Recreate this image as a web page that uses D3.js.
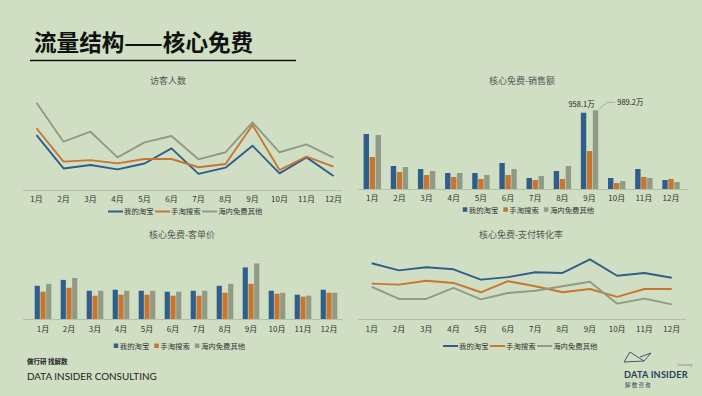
<!DOCTYPE html>
<html>
<head>
<meta charset="utf-8">
<script src="https://cdn.jsdelivr.net/npm/d3@7"></script>
<style>
  html, body { margin: 0; padding: 0; background: #d0dfc3; }
  svg { display: block; font-family: "Noto Sans CJK SC", "Noto Sans", sans-serif; }
</style>
</head>
<body>
<svg id="page" width="702" height="396"></svg>
<script>
// months on every x axis
var months = ["1月", "2月", "3月", "4月", "5月", "6月", "7月", "8月", "9月", "10月", "11月", "12月"];
var seriesNames = ["我的淘宝", "手淘搜索", "海内免费其他"];
var colors = ["#2f5d8c", "#c8752f", "#8f9a87"];

// 访客人数 (万)
var visitMine = [560, 220, 255, 210, 270, 425, 165, 228, 452, 170, 333, 143];
var visitSearch = [630, 290, 305, 272, 316, 316, 232, 265, 663, 204, 340, 238];
var visitOther = [890, 493, 595, 333, 486, 551, 313, 385, 690, 385, 466, 330];

// 销售额 (万)
var salesMine = [691, 289, 251, 201, 201, 327, 138, 226, 958.1, 138, 251, 113];
var salesSearch = [402, 214, 176, 151, 126, 176, 113, 126, 477, 75, 151, 126];
var salesOther = [678, 276, 226, 201, 176, 251, 163, 289, 989.2, 100, 138, 88];

// 客单价 (元)
var priceMine = [101, 119, 86, 89, 86, 83, 86, 101, 157, 86, 74, 89];
var priceSearch = [83, 95, 71, 74, 74, 71, 71, 80, 107, 77, 68, 80];
var priceOther = [107, 125, 86, 86, 86, 83, 86, 107, 169, 80, 71, 80];

// 支付转化率 (%)
var convMine = [3.23, 2.82, 3.00, 2.88, 2.28, 2.43, 2.71, 2.67, 3.46, 2.51, 2.67, 2.39];
var convSearch = [2.05, 1.99, 2.22, 2.09, 1.55, 2.19, 1.90, 1.55, 1.74, 1.28, 1.74, 1.74];
var convOther = [1.86, 1.16, 1.16, 1.80, 1.14, 1.51, 1.64, 1.90, 2.16, 0.89, 1.18, 0.85];

var svg = d3.select('#page');

// page header
svg.append('text')
  .attr('x', 34).attr('y', 51)
  .attr('font-size', 22.6).attr('font-weight', 'bold')
  .attr('fill', '#111')
  .text('流量结构——核心免费');
svg.append('line')
  .attr('x1', 30).attr('x2', 296).attr('y1', 60.5).attr('y2', 60.5)
  .attr('stroke', '#111').attr('stroke-width', 1.3);

function chartTitle(x, y, t) {
  svg.append('text')
    .attr('x', x).attr('y', y)
    .attr('text-anchor', 'middle')
    .attr('font-size', 9).attr('fill', '#555')
    .text(t);
}

function axisLine(x0, x1, y) {
  svg.append('line')
    .attr('x1', x0).attr('x2', x1).attr('y1', y + 0.5).attr('y2', y + 0.5)
    .attr('stroke', '#b3bfa8').attr('stroke-width', 1);
}

function monthLabels(x, y, offset) {
  svg.append('g')
    .selectAll('text')
    .data(months)
    .enter()
    .append('text')
    .attr('x', function (d) { return x(d) + offset; })
    .attr('y', y)
    .attr('text-anchor', 'middle')
    .attr('font-size', 8).attr('fill', '#333')
    .text(function (d) { return d; });
}

// legend centered on cx; kind = 'line' or 'box'
function legend(cx, y, kind) {
  var g = svg.append('g');
  var pos = 0;
  seriesNames.forEach(function (name, i) {
    var item = g.append('g').attr('transform', 'translate(' + pos + ',0)');
    var w;
    if (kind === 'line') {
      item.append('line')
        .attr('x1', 0).attr('x2', 15).attr('y1', y).attr('y2', y)
        .attr('stroke', colors[i]).attr('stroke-width', 2);
      w = 16;
    } else {
      item.append('rect')
        .attr('x', 0).attr('y', y - 2.5).attr('width', 4.5).attr('height', 4.5)
        .attr('fill', colors[i]);
      w = 6;
    }
    var t = item.append('text')
      .attr('x', w).attr('y', y + 2.7)
      .attr('font-size', 7.4).attr('fill', '#333')
      .text(name);
    pos += w + t.node().getComputedTextLength() + (kind === 'line' ? 1.5 : 5);
  });
  var total = pos;
  g.attr('transform', 'translate(' + (cx - total / 2) + ',0)');
}

function lineChart(opts) {
  var x = d3.scalePoint().domain(months).range(opts.xr);
  var y = d3.scaleLinear().domain(opts.yd).range(opts.yr);
  axisLine(opts.ax[0], opts.ax[1], opts.yr[0]);
  var line = d3.line()
    .x(function (d, i) { return x(months[i]); })
    .y(function (d) { return y(d); });
  opts.series.forEach(function (s, i) {
    svg.append('path')
      .datum(s)
      .attr('d', line)
      .attr('fill', 'none')
      .attr('stroke', colors[i])
      .attr('stroke-width', 1.9)
      .attr('stroke-linejoin', 'round');
  });
  monthLabels(x, opts.labelY, 0);
}

function barChart(opts) {
  var x = d3.scaleBand().domain(months).range(opts.xr).paddingInner(0.36).paddingOuter(0.18);
  var xs = d3.scaleBand().domain([0, 1, 2]).range([0, x.bandwidth()]).paddingInner(0.1);
  var y = d3.scaleLinear().domain(opts.yd).range(opts.yr);
  var g = svg.append('g');
  opts.series.forEach(function (s, i) {
    g.selectAll('rect.s' + i)
      .data(s)
      .enter()
      .append('rect')
      .attr('x', function (d, j) { return x(months[j]) + xs(i); })
      .attr('y', function (d) { return y(d); })
      .attr('width', xs.bandwidth())
      .attr('height', function (d) { return y(0) - y(d); })
      .attr('fill', colors[i]);
  });
  axisLine(opts.ax[0], opts.ax[1], opts.yr[0]);
  monthLabels(function (d) { return x(d) + x.bandwidth() / 2; }, opts.labelY, 0);
  return { x: x, xs: xs, y: y };
}

// 访客人数
chartTitle(168, 84, '访客人数');
lineChart({
  xr: [36.5, 333.5], yd: [0, 1000], yr: [190, 92], ax: [23, 342],
  series: [visitMine, visitSearch, visitOther], labelY: 201.5
});
legend(186, 211.5, 'line');

// 核心免费-销售额
chartTitle(522, 84, '核心免费-销售额');
var sales = barChart({
  xr: [358.7, 684.6], yd: [0, 1200], yr: [189, 93.5], ax: [358, 688],
  series: [salesMine, salesSearch, salesOther], labelY: 200.5
});
legend(531, 209.8, 'box');

// value labels for September
var sx = sales.x('9月');
svg.append('text')
  .attr('x', sx + sales.xs(0) + sales.xs.bandwidth() / 2 - 2)
  .attr('y', sales.y(salesMine[8]) - 6)
  .attr('text-anchor', 'middle')
  .attr('font-size', 7.5).attr('fill', '#222')
  .text(d3.format('.1f')(salesMine[8]) + '万');
var gx = sx + sales.xs(2) + sales.xs.bandwidth();
var gy = sales.y(salesOther[8]);
svg.append('polyline')
  .attr('points', [[gx + 0.5, gy - 1], [gx + 9, gy - 8], [gx + 17, gy - 8]].join(' '))
  .attr('fill', 'none').attr('stroke', '#9aa592').attr('stroke-width', 0.8);
svg.append('text')
  .attr('x', gx + 19)
  .attr('y', gy - 5.5)
  .attr('font-size', 7.5).attr('fill', '#222')
  .text(d3.format('.1f')(salesOther[8]) + '万');

// 核心免费-客单价
chartTitle(182, 238, '核心免费-客单价');
barChart({
  xr: [30, 342], yd: [0, 210], yr: [319, 250], ax: [23, 343],
  series: [priceMine, priceSearch, priceOther], labelY: 332
});
legend(182, 346, 'box');

// 核心免费-支付转化率
chartTitle(521, 238, '核心免费-支付转化率');
lineChart({
  xr: [371.7, 671.7], yd: [0, 4], yr: [319, 250], ax: [358, 686],
  series: [convMine, convSearch, convOther], labelY: 332
});
legend(521, 346, 'line');

// footer
svg.append('text')
  .attr('x', 27).attr('y', 364)
  .attr('font-size', 6.5).attr('font-weight', 'bold').attr('fill', '#222')
  .text('做行研 找解数');
svg.append('text')
  .attr('x', 27).attr('y', 380)
  .attr('font-family', 'Lato, "Open Sans", sans-serif')
  .attr('font-size', 9.9).attr('fill', '#222')
  .text('DATA INSIDER CONSULTING');

// logo
var logo = svg.append('g');
logo.append('path')
  .attr('d', 'M624,362 L630,352 L644,361 L651,353 L640,357')
  .attr('fill', 'none').attr('stroke', '#2b4a63').attr('stroke-width', 0.9)
  .attr('stroke-linejoin', 'round');
logo.append('path')
  .attr('d', 'M624,362 L644,361')
  .attr('fill', 'none').attr('stroke', '#2b4a63').attr('stroke-width', 0.9);
logo.append('text')
  .attr('x', 624).attr('y', 378)
  .attr('font-family', 'Lato, "Open Sans", sans-serif')
  .attr('font-size', 9.2).attr('font-weight', 'bold').attr('fill', '#253f5a')
  .attr('letter-spacing', 0.2)
  .text('DATA INSIDER');
logo.append('text')
  .attr('x', 677).attr('y', 366)
  .attr('font-size', 3).attr('fill', '#777')
  .text('Consulting');
logo.append('text')
  .attr('x', 625).attr('y', 387)
  .attr('font-size', 5.5).attr('fill', '#253f5a')
  .attr('letter-spacing', 1.2)
  .text('解数咨询');
</script>
</body>
</html>
